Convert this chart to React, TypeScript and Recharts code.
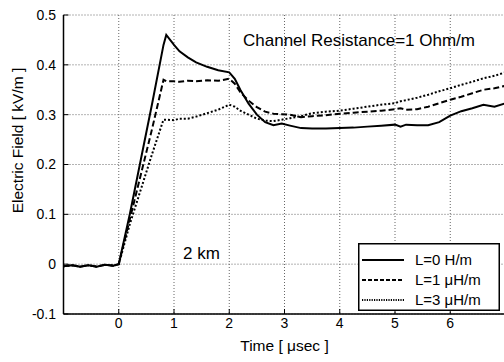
import React from 'react';
import { LineChart, Line, XAxis, YAxis, CartesianGrid, Legend, Customized, Label } from 'recharts';

const FONT = '"Liberation Sans", Arial, Helvetica, sans-serif';

const timeUs = [
  -1, -0.85, -0.7, -0.55, -0.4, -0.25, -0.1, 0, 0.2, 0.4, 0.6, 0.81, 0.86, 1.0, 1.1, 1.25, 1.4, 1.6,
  1.8, 2.0, 2.1, 2.2, 2.35, 2.5, 2.65, 2.8, 2.95, 3.1, 3.3, 3.5, 3.75, 4.0, 4.25, 4.5, 4.75, 5.0,
  5.1, 5.2, 5.4, 5.6, 5.8, 6.0, 6.2, 6.4, 6.6, 6.8, 7.0,
];

const fieldL0 = [
  -0.004, -0.002, -0.005, -0.002, -0.005, -0.001, -0.003, 0, 0.1, 0.21, 0.32, 0.44, 0.46, 0.44, 0.427,
  0.415, 0.405, 0.396, 0.389, 0.385, 0.372, 0.35, 0.322, 0.3, 0.285, 0.279, 0.282, 0.278, 0.273, 0.272,
  0.272, 0.273, 0.274, 0.276, 0.278, 0.28, 0.276, 0.28, 0.279, 0.279, 0.285, 0.298, 0.307, 0.313, 0.32,
  0.316, 0.323,
];

const fieldL1 = [
  -0.004, -0.002, -0.005, -0.002, -0.005, -0.001, -0.003, 0, 0.09, 0.18, 0.27, 0.37, 0.367, 0.367,
  0.366, 0.368, 0.367, 0.369, 0.368, 0.372, 0.362, 0.345, 0.328, 0.315, 0.306, 0.302, 0.301, 0.3, 0.295,
  0.297, 0.299, 0.302, 0.304, 0.306, 0.308, 0.311, 0.313, 0.31, 0.311, 0.316, 0.323, 0.33, 0.336, 0.343,
  0.35, 0.353, 0.358,
];

const fieldL3 = [
  -0.004, -0.002, -0.005, -0.002, -0.005, -0.001, -0.003, 0, 0.08, 0.15, 0.22, 0.29, 0.29, 0.289, 0.292,
  0.292, 0.296, 0.303, 0.31, 0.32, 0.316, 0.308, 0.3, 0.292, 0.288, 0.287, 0.29, 0.293, 0.297, 0.303,
  0.306, 0.308, 0.312, 0.316, 0.32, 0.323, 0.327, 0.329, 0.334, 0.34, 0.347, 0.353, 0.36, 0.366, 0.373,
  0.378, 0.385,
];

const xTicks = [0, 1, 2, 3, 4, 5, 6];
const yTicks = [-0.1, 0, 0.1, 0.2, 0.3, 0.4, 0.5];
const seriesNames = ['L=0 H/m', 'L=1 \u03bcH/m', 'L=3 \u03bcH/m'];
const seriesKeys = ['l0', 'l1', 'l3'];
const seriesDash = [undefined, '6 3', '2 2'];
const legendDash = [undefined, '4 2', '1.2 1.2'];
const xAxisTitle = 'Time [ \u03bcsec ]';
const yAxisTitle = 'Electric Field [ kV/m ]';

const rows = timeUs.map((t, i) => ({ t, l0: fieldL0[i], l1: fieldL1[i], l3: fieldL3[i] }));

const LegendBox = () => (
  <svg width={142} height={68} style={{ display: 'block' }}>
    <rect x={0.75} y={0.75} width={140.5} height={66.5} fill="#fff" stroke="#000" strokeWidth={1.5} />
    {seriesNames.map((name, i) => (
      <g key={name}>
        <line x1={4} x2={46} y1={17 + 20 * i} y2={17 + 20 * i} stroke="#000" strokeWidth={2} strokeDasharray={legendDash[i]} />
        <text x={57} y={17 + 20 * i} dy="0.35em" fontSize={15} fontFamily={FONT} fill="#000">
          {name}
        </text>
      </g>
    ))}
  </svg>
);

const Annotations = () => (
  <g fontFamily={FONT} fill="#000">
    <text x={243} y={46} fontSize={17}>Channel Resistance=1 Ohm/m</text>
    <text x={183} y={259} fontSize={17}>2 km</text>
    <text transform="translate(23,140.5) rotate(-90)" textAnchor="middle" fontSize={15.5}>
      {yAxisTitle}
    </text>
  </g>
);

const tickStyle = { fontSize: 14, fill: '#000', fontFamily: FONT };
const axisLineStyle = { stroke: '#000', strokeWidth: 1.5 };

export default function App() {
  return (
    <div style={{ position: 'absolute', left: 0, top: 0, width: 504, height: 362, overflow: 'hidden', background: '#fff' }}>
      <LineChart width={506} height={362} data={rows} margin={{ top: 15, right: 0.5, bottom: 0, left: 0 }}>
        <CartesianGrid stroke="#666" strokeDasharray="1 2" />
        <XAxis
          dataKey="t"
          type="number"
          domain={[-1, 7]}
          ticks={xTicks}
          interval={0}
          allowDataOverflow
          height={48}
          tickSize={-5}
          tickMargin={9}
          tick={tickStyle}
          axisLine={axisLineStyle}
          tickLine={{ stroke: '#000' }}
        >
          <Label value={xAxisTitle} position="insideBottom" offset={11} style={{ fontSize: 15.5, fill: '#000', fontFamily: FONT }} />
        </XAxis>
        <XAxis
          xAxisId="top"
          orientation="top"
          type="number"
          domain={[-1, 7]}
          ticks={xTicks}
          interval={0}
          allowDataOverflow
          height={0}
          tickSize={-5}
          tick={false}
          axisLine={axisLineStyle}
          tickLine={{ stroke: '#000' }}
        />
        <YAxis
          type="number"
          domain={[-0.1, 0.5]}
          ticks={yTicks}
          interval={0}
          allowDataOverflow
          width={63.5}
          tickSize={-5}
          tickMargin={12.5}
          tick={tickStyle}
          axisLine={axisLineStyle}
          tickLine={{ stroke: '#000' }}
        />
        <YAxis
          yAxisId="right"
          orientation="right"
          type="number"
          domain={[-0.1, 0.5]}
          ticks={yTicks}
          interval={0}
          allowDataOverflow
          width={0}
          tickSize={-5}
          tick={false}
          axisLine={axisLineStyle}
          tickLine={{ stroke: '#000' }}
        />
        {seriesKeys.map((k, i) => (
          <Line
            key={k}
            dataKey={k}
            name={seriesNames[i]}
            type="linear"
            stroke="#000"
            strokeWidth={2}
            strokeDasharray={seriesDash[i]}
            dot={false}
            isAnimationActive={false}
          />
        ))}
        <Legend
          layout="horizontal"
          verticalAlign="middle"
          align="center"
          wrapperStyle={{ left: 358, top: 243, width: 142, height: 68 }}
          content={() => <LegendBox />}
        />
        <Customized component={Annotations} />
      </LineChart>
    </div>
  );
}
